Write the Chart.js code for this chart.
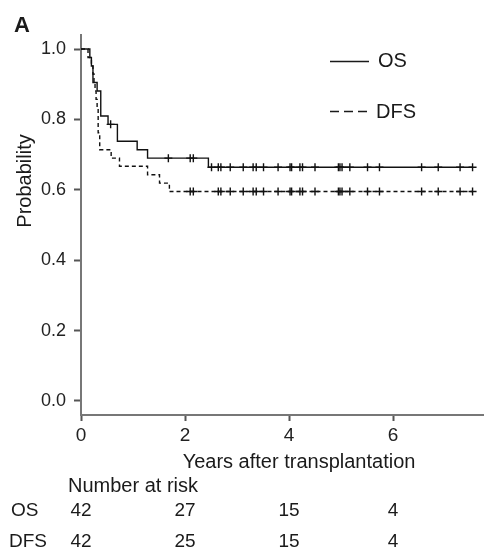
<!DOCTYPE html>
<html>
<head>
<meta charset="utf-8">
<script src="https://cdn.jsdelivr.net/npm/chart.js@4/dist/chart.umd.min.js"></script>
<style>
  html, body { margin: 0; padding: 0; background: #fff; }
  #km { display: block; }
</style>
</head>
<body>
<canvas id="km" width="484" height="554"></canvas>
<script>
// Kaplan-Meier steps (years after transplantation, survival after the drop)
const osTimes = [0.17, 0.20, 0.23, 0.31, 0.38, 0.52, 0.70, 1.08, 1.28, 2.45];
const osSurv  = [0.976, 0.952, 0.905, 0.881, 0.810, 0.786, 0.738, 0.714, 0.690, 0.664];
const dfsTimes = [0.135, 0.20, 0.23, 0.25, 0.27, 0.29, 0.31, 0.33, 0.36, 0.58, 0.74, 1.28, 1.51, 1.70];
const dfsSurv  = [0.976, 0.952, 0.929, 0.905, 0.881, 0.857, 0.833, 0.762, 0.714, 0.690, 0.667, 0.643, 0.619, 0.595];

// censored observations
const osCensor = [0.57, 1.68, 2.10, 2.16, 2.51, 2.64, 2.69, 2.87, 3.12, 3.31, 3.37, 3.51, 3.79,
                  4.02, 4.05, 4.21, 4.26, 4.50, 4.95, 4.98, 5.02, 5.17, 5.51, 5.74, 6.55, 6.87, 7.29, 7.53];
const dfsCensor = [2.10, 2.16, 2.64, 2.69, 2.87, 3.12, 3.31, 3.37, 3.51, 3.79,
                   4.02, 4.05, 4.21, 4.26, 4.50, 4.95, 4.98, 5.02, 5.17, 5.51, 5.74, 6.55, 6.87, 7.29, 7.53];
const followUpEnd = 7.53;

// number at risk table
const riskTimes = [0, 2, 4, 6];
const osRisk = [42, 27, 15, 4];
const dfsRisk = [42, 25, 15, 4];

const yTicks = [0, 0.2, 0.4, 0.6, 0.8, 1.0];
const xTicks = [0, 2, 4, 6];

function kmPoints(times, surv) {
  let pts = [{x: 0, y: 1}];
  times.forEach((t, i) => pts.push({x: t, y: surv[i]}));
  pts.push({x: followUpEnd, y: surv[surv.length - 1]});
  return pts;
}
function survAt(times, surv, t) {
  let s = 1;
  times.forEach((tt, i) => { if (tt <= t) s = surv[i]; });
  return s;
}
function censorPoints(cens, times, surv) {
  return cens.map(t => ({x: t, y: survAt(times, surv, t)}));
}

const FONT = "'Liberation Sans', Arial, Helvetica, sans-serif";
Chart.defaults.font.family = FONT;
Chart.defaults.color = '#222';

const textPlugin = {
  id: 'kmText',
  afterDraw(chart) {
    const ctx = chart.ctx;
    const xs = chart.scales.x;
    ctx.save();
    ctx.fillStyle = '#1a1a1a';
    ctx.strokeStyle = '#1a1a1a';

    // panel letter
    ctx.font = 'bold 22px ' + FONT;
    ctx.textAlign = 'left';
    ctx.textBaseline = 'alphabetic';
    ctx.fillText('A', 14, 32);

    // y axis title
    ctx.save();
    ctx.translate(25, 181);
    ctx.rotate(-Math.PI / 2);
    ctx.font = '20px ' + FONT;
    ctx.textAlign = 'center';
    ctx.textBaseline = 'middle';
    ctx.fillText('Probability', 0, 0);
    ctx.restore();

    // legend
    ctx.lineWidth = 1.4;
    ctx.beginPath();
    ctx.moveTo(330, 61.5); ctx.lineTo(369, 61.5);
    ctx.stroke();
    ctx.setLineDash([9, 5]);
    ctx.beginPath();
    ctx.moveTo(330, 111.5); ctx.lineTo(368, 111.5);
    ctx.stroke();
    ctx.setLineDash([]);
    ctx.font = '20px ' + FONT;
    ctx.textAlign = 'left';
    ctx.textBaseline = 'middle';
    ctx.fillText('OS', 378, 61);
    ctx.fillText('DFS', 376, 112);

    // x axis title
    ctx.textAlign = 'center';
    ctx.fillText('Years after transplantation', 299, 462);

    // number at risk
    ctx.textAlign = 'left';
    ctx.fillText('Number at risk', 68, 486);
    ctx.font = '19px ' + FONT;
    ctx.fillText('OS', 11, 511);
    ctx.fillText('DFS', 9, 542);
    ctx.textAlign = 'center';
    riskTimes.forEach((t, i) => {
      const px = xs.getPixelForValue(t);
      ctx.fillText(String(osRisk[i]), px, 511);
      ctx.fillText(String(dfsRisk[i]), px, 542);
    });
    ctx.restore();
  }
};

new Chart(document.getElementById('km').getContext('2d'), {
  type: 'line',
  data: {
    datasets: [
      {
        label: 'OS',
        data: kmPoints(osTimes, osSurv),
        stepped: 'before',
        borderColor: '#111',
        borderWidth: 1.4,
        pointRadius: 0,
        fill: false
      },
      {
        label: 'DFS',
        data: kmPoints(dfsTimes, dfsSurv),
        stepped: 'before',
        borderColor: '#111',
        borderWidth: 1.4,
        borderDash: [4, 3],
        pointRadius: 0,
        fill: false
      },
      {
        label: 'OS censored',
        data: censorPoints(osCensor, osTimes, osSurv),
        showLine: false,
        pointStyle: 'cross',
        pointRadius: 4,
        pointBorderWidth: 1.4,
        pointBorderColor: '#111'
      },
      {
        label: 'DFS censored',
        data: censorPoints(dfsCensor, dfsTimes, dfsSurv),
        showLine: false,
        pointStyle: 'cross',
        pointRadius: 4,
        pointBorderWidth: 1.4,
        pointBorderColor: '#111'
      }
    ]
  },
  options: {
    responsive: false,
    devicePixelRatio: 1,
    animation: false,
    layout: { autoPadding: false, padding: { top: 35, right: 0, left: 0, bottom: 0 } },
    plugins: {
      legend: { display: false },
      tooltip: { enabled: false }
    },
    scales: {
      x: {
        type: 'linear',
        min: 0,
        max: 7.75,
        afterFit: s => { s.height = 139; },
        afterBuildTicks: s => { s.ticks = xTicks.map(v => ({value: v})); },
        ticks: {
          font: { size: 19 },
          color: '#222',
          padding: 3
        },
        grid: { drawOnChartArea: false, drawTicks: true, tickLength: 6, color: '#555', tickWidth: 2 },
        border: { display: true, color: '#777', width: 2 }
      },
      y: {
        min: -0.04,
        max: 1.04,
        afterFit: s => { s.width = 81; },
        afterBuildTicks: s => { s.ticks = yTicks.map(v => ({value: v})); },
        ticks: {
          font: { size: 18 },
          color: '#222',
          padding: 8,
          callback: v => v.toFixed(1)
        },
        grid: { drawOnChartArea: false, drawTicks: true, tickLength: 7, color: '#555', tickWidth: 2 },
        border: { display: true, color: '#777', width: 2 }
      }
    }
  },
  plugins: [textPlugin]
});
</script>
</body>
</html>
